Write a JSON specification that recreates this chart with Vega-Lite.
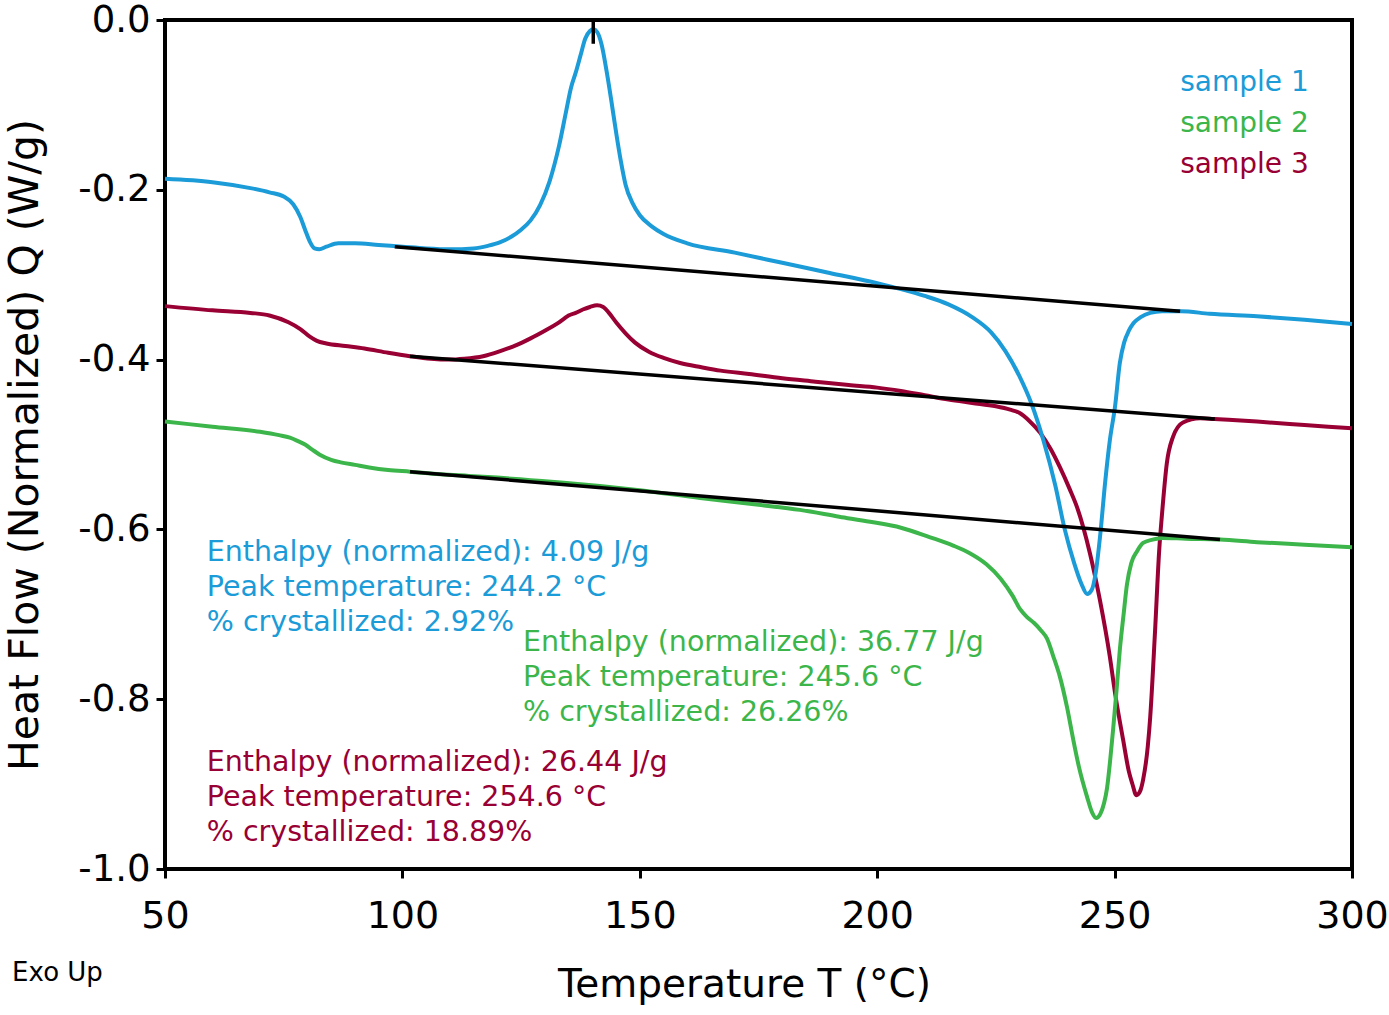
{
  "$schema": "https://vega.github.io/schema/vega-lite/v6.json",
  "width": 1187,
  "height": 849,
  "autosize": {"type": "none"},
  "padding": {"left": 165, "top": 20, "right": 37, "bottom": 146},
  "background": "white",
  "config": {
    "view": {"stroke": "black", "strokeWidth": 4},
    "font": "DejaVu Sans",
    "axis": {"grid": false, "domain": false, "tickColor": "black", "tickWidth": 3, "tickSize": 9, "labelColor": "black", "titleColor": "black", "titleFontWeight": "normal", "labelFont": "DejaVu Sans", "titleFont": "DejaVu Sans", "labelFlush": false}
  },
  "datasets": {
    "curves": [
      {"series": "sample 3", "T": 50, "Q": -0.337}, {"series": "sample 3", "T": 60, "Q": -0.342}, {"series": "sample 3", "T": 68, "Q": -0.345}, {"series": "sample 3", "T": 72, "Q": -0.348}, {"series": "sample 3", "T": 76, "Q": -0.356}, {"series": "sample 3", "T": 78.5, "Q": -0.364}, {"series": "sample 3", "T": 80.5, "Q": -0.373}, {"series": "sample 3", "T": 82, "Q": -0.378}, {"series": "sample 3", "T": 84, "Q": -0.381}, {"series": "sample 3", "T": 88, "Q": -0.384}, {"series": "sample 3", "T": 92, "Q": -0.387}, {"series": "sample 3", "T": 97, "Q": -0.392}, {"series": "sample 3", "T": 101.6, "Q": -0.396}, {"series": "sample 3", "T": 106, "Q": -0.399}, {"series": "sample 3", "T": 110, "Q": -0.4}, {"series": "sample 3", "T": 113, "Q": -0.399}, {"series": "sample 3", "T": 117, "Q": -0.396}, {"series": "sample 3", "T": 120.6, "Q": -0.39}, {"series": "sample 3", "T": 124, "Q": -0.383}, {"series": "sample 3", "T": 127, "Q": -0.375}, {"series": "sample 3", "T": 130, "Q": -0.366}, {"series": "sample 3", "T": 132.5, "Q": -0.358}, {"series": "sample 3", "T": 134, "Q": -0.352}, {"series": "sample 3", "T": 135, "Q": -0.348}, {"series": "sample 3", "T": 136.5, "Q": -0.345}, {"series": "sample 3", "T": 138, "Q": -0.341}, {"series": "sample 3", "T": 139.5, "Q": -0.338}, {"series": "sample 3", "T": 141, "Q": -0.336}, {"series": "sample 3", "T": 142.3, "Q": -0.338}, {"series": "sample 3", "T": 143.5, "Q": -0.345}, {"series": "sample 3", "T": 145, "Q": -0.356}, {"series": "sample 3", "T": 147, "Q": -0.369}, {"series": "sample 3", "T": 149, "Q": -0.38}, {"series": "sample 3", "T": 152, "Q": -0.391}, {"series": "sample 3", "T": 155, "Q": -0.398}, {"series": "sample 3", "T": 158.5, "Q": -0.404}, {"series": "sample 3", "T": 163, "Q": -0.409}, {"series": "sample 3", "T": 167, "Q": -0.413}, {"series": "sample 3", "T": 173, "Q": -0.417}, {"series": "sample 3", "T": 180, "Q": -0.422}, {"series": "sample 3", "T": 187, "Q": -0.426}, {"series": "sample 3", "T": 194, "Q": -0.43}, {"series": "sample 3", "T": 200, "Q": -0.433}, {"series": "sample 3", "T": 205, "Q": -0.437}, {"series": "sample 3", "T": 210, "Q": -0.442}, {"series": "sample 3", "T": 215, "Q": -0.447}, {"series": "sample 3", "T": 220, "Q": -0.451}, {"series": "sample 3", "T": 225, "Q": -0.455}, {"series": "sample 3", "T": 228, "Q": -0.459}, {"series": "sample 3", "T": 230, "Q": -0.463}, {"series": "sample 3", "T": 232, "Q": -0.472}, {"series": "sample 3", "T": 234.3, "Q": -0.486}, {"series": "sample 3", "T": 236.5, "Q": -0.505}, {"series": "sample 3", "T": 238.5, "Q": -0.527}, {"series": "sample 3", "T": 240.5, "Q": -0.552}, {"series": "sample 3", "T": 242.1, "Q": -0.574}, {"series": "sample 3", "T": 244.8, "Q": -0.628}, {"series": "sample 3", "T": 246.9, "Q": -0.683}, {"series": "sample 3", "T": 249, "Q": -0.75}, {"series": "sample 3", "T": 250.1, "Q": -0.793}, {"series": "sample 3", "T": 251.8, "Q": -0.848}, {"series": "sample 3", "T": 253, "Q": -0.885}, {"series": "sample 3", "T": 253.7, "Q": -0.899}, {"series": "sample 3", "T": 254.6, "Q": -0.913}, {"series": "sample 3", "T": 255.4, "Q": -0.908}, {"series": "sample 3", "T": 256, "Q": -0.895}, {"series": "sample 3", "T": 257, "Q": -0.855}, {"series": "sample 3", "T": 257.5, "Q": -0.821}, {"series": "sample 3", "T": 258.5, "Q": -0.722}, {"series": "sample 3", "T": 259.4, "Q": -0.624}, {"series": "sample 3", "T": 260, "Q": -0.581}, {"series": "sample 3", "T": 261, "Q": -0.522}, {"series": "sample 3", "T": 262.3, "Q": -0.491}, {"series": "sample 3", "T": 264.4, "Q": -0.474}, {"series": "sample 3", "T": 268, "Q": -0.469}, {"series": "sample 3", "T": 271, "Q": -0.47}, {"series": "sample 3", "T": 280, "Q": -0.473}, {"series": "sample 3", "T": 290, "Q": -0.477}, {"series": "sample 3", "T": 300, "Q": -0.481},
      {"series": "sample 1", "T": 50, "Q": -0.187}, {"series": "sample 1", "T": 60, "Q": -0.191}, {"series": "sample 1", "T": 68, "Q": -0.198}, {"series": "sample 1", "T": 72, "Q": -0.203}, {"series": "sample 1", "T": 75, "Q": -0.208}, {"series": "sample 1", "T": 77, "Q": -0.217}, {"series": "sample 1", "T": 78.5, "Q": -0.232}, {"series": "sample 1", "T": 79.5, "Q": -0.247}, {"series": "sample 1", "T": 80.5, "Q": -0.261}, {"series": "sample 1", "T": 81.5, "Q": -0.269}, {"series": "sample 1", "T": 82.5, "Q": -0.27}, {"series": "sample 1", "T": 84, "Q": -0.267}, {"series": "sample 1", "T": 86.5, "Q": -0.263}, {"series": "sample 1", "T": 90, "Q": -0.263}, {"series": "sample 1", "T": 95, "Q": -0.265}, {"series": "sample 1", "T": 100, "Q": -0.267}, {"series": "sample 1", "T": 105, "Q": -0.269}, {"series": "sample 1", "T": 110, "Q": -0.27}, {"series": "sample 1", "T": 115, "Q": -0.269}, {"series": "sample 1", "T": 118, "Q": -0.266}, {"series": "sample 1", "T": 120.5, "Q": -0.262}, {"series": "sample 1", "T": 123, "Q": -0.255}, {"series": "sample 1", "T": 125, "Q": -0.247}, {"series": "sample 1", "T": 127, "Q": -0.236}, {"series": "sample 1", "T": 129, "Q": -0.218}, {"series": "sample 1", "T": 131, "Q": -0.19}, {"series": "sample 1", "T": 133, "Q": -0.148}, {"series": "sample 1", "T": 134.5, "Q": -0.107}, {"series": "sample 1", "T": 135.5, "Q": -0.08}, {"series": "sample 1", "T": 136.5, "Q": -0.062}, {"series": "sample 1", "T": 137.5, "Q": -0.042}, {"series": "sample 1", "T": 138.5, "Q": -0.022}, {"series": "sample 1", "T": 139.5, "Q": -0.013}, {"series": "sample 1", "T": 140.2, "Q": -0.011}, {"series": "sample 1", "T": 141, "Q": -0.014}, {"series": "sample 1", "T": 142, "Q": -0.03}, {"series": "sample 1", "T": 143, "Q": -0.06}, {"series": "sample 1", "T": 144, "Q": -0.095}, {"series": "sample 1", "T": 145, "Q": -0.132}, {"series": "sample 1", "T": 146, "Q": -0.166}, {"series": "sample 1", "T": 147, "Q": -0.194}, {"series": "sample 1", "T": 148.5, "Q": -0.216}, {"series": "sample 1", "T": 150, "Q": -0.23}, {"series": "sample 1", "T": 152.5, "Q": -0.243}, {"series": "sample 1", "T": 155, "Q": -0.252}, {"series": "sample 1", "T": 160, "Q": -0.263}, {"series": "sample 1", "T": 170, "Q": -0.274}, {"series": "sample 1", "T": 180, "Q": -0.286}, {"series": "sample 1", "T": 190, "Q": -0.298}, {"series": "sample 1", "T": 200, "Q": -0.31}, {"series": "sample 1", "T": 205, "Q": -0.317}, {"series": "sample 1", "T": 210, "Q": -0.325}, {"series": "sample 1", "T": 215, "Q": -0.335}, {"series": "sample 1", "T": 220, "Q": -0.35}, {"series": "sample 1", "T": 224, "Q": -0.368}, {"series": "sample 1", "T": 227, "Q": -0.39}, {"series": "sample 1", "T": 230, "Q": -0.42}, {"series": "sample 1", "T": 232.5, "Q": -0.452}, {"series": "sample 1", "T": 235, "Q": -0.495}, {"series": "sample 1", "T": 237.5, "Q": -0.548}, {"series": "sample 1", "T": 239.5, "Q": -0.6}, {"series": "sample 1", "T": 241.5, "Q": -0.64}, {"series": "sample 1", "T": 243, "Q": -0.664}, {"series": "sample 1", "T": 244.2, "Q": -0.676}, {"series": "sample 1", "T": 245.2, "Q": -0.671}, {"series": "sample 1", "T": 246, "Q": -0.652}, {"series": "sample 1", "T": 247, "Q": -0.605}, {"series": "sample 1", "T": 248, "Q": -0.545}, {"series": "sample 1", "T": 249, "Q": -0.495}, {"series": "sample 1", "T": 250.1, "Q": -0.455}, {"series": "sample 1", "T": 251.1, "Q": -0.404}, {"series": "sample 1", "T": 252, "Q": -0.38}, {"series": "sample 1", "T": 253, "Q": -0.366}, {"series": "sample 1", "T": 254, "Q": -0.357}, {"series": "sample 1", "T": 255.5, "Q": -0.35}, {"series": "sample 1", "T": 257.5, "Q": -0.345}, {"series": "sample 1", "T": 260, "Q": -0.343}, {"series": "sample 1", "T": 264, "Q": -0.343}, {"series": "sample 1", "T": 270, "Q": -0.346}, {"series": "sample 1", "T": 280, "Q": -0.349}, {"series": "sample 1", "T": 290, "Q": -0.353}, {"series": "sample 1", "T": 300, "Q": -0.358},
      {"series": "sample 2", "T": 50, "Q": -0.473}, {"series": "sample 2", "T": 60, "Q": -0.479}, {"series": "sample 2", "T": 70, "Q": -0.485}, {"series": "sample 2", "T": 74, "Q": -0.489}, {"series": "sample 2", "T": 76.3, "Q": -0.492}, {"series": "sample 2", "T": 78, "Q": -0.496}, {"series": "sample 2", "T": 79.5, "Q": -0.5}, {"series": "sample 2", "T": 81, "Q": -0.506}, {"series": "sample 2", "T": 82.6, "Q": -0.512}, {"series": "sample 2", "T": 85, "Q": -0.518}, {"series": "sample 2", "T": 87, "Q": -0.521}, {"series": "sample 2", "T": 90, "Q": -0.524}, {"series": "sample 2", "T": 93, "Q": -0.527}, {"series": "sample 2", "T": 97, "Q": -0.53}, {"series": "sample 2", "T": 101.6, "Q": -0.532}, {"series": "sample 2", "T": 108, "Q": -0.535}, {"series": "sample 2", "T": 114, "Q": -0.537}, {"series": "sample 2", "T": 120, "Q": -0.539}, {"series": "sample 2", "T": 127, "Q": -0.542}, {"series": "sample 2", "T": 134, "Q": -0.545}, {"series": "sample 2", "T": 141.6, "Q": -0.549}, {"series": "sample 2", "T": 150, "Q": -0.554}, {"series": "sample 2", "T": 162.7, "Q": -0.563}, {"series": "sample 2", "T": 175, "Q": -0.571}, {"series": "sample 2", "T": 183.7, "Q": -0.577}, {"series": "sample 2", "T": 192, "Q": -0.585}, {"series": "sample 2", "T": 198.5, "Q": -0.591}, {"series": "sample 2", "T": 205, "Q": -0.598}, {"series": "sample 2", "T": 211, "Q": -0.609}, {"series": "sample 2", "T": 216, "Q": -0.619}, {"series": "sample 2", "T": 219.5, "Q": -0.628}, {"series": "sample 2", "T": 223, "Q": -0.641}, {"series": "sample 2", "T": 226, "Q": -0.658}, {"series": "sample 2", "T": 228.5, "Q": -0.678}, {"series": "sample 2", "T": 230.1, "Q": -0.694}, {"series": "sample 2", "T": 231.5, "Q": -0.703}, {"series": "sample 2", "T": 233, "Q": -0.71}, {"series": "sample 2", "T": 234.5, "Q": -0.719}, {"series": "sample 2", "T": 235.8, "Q": -0.729}, {"series": "sample 2", "T": 237, "Q": -0.748}, {"series": "sample 2", "T": 238.5, "Q": -0.774}, {"series": "sample 2", "T": 240, "Q": -0.81}, {"series": "sample 2", "T": 241.2, "Q": -0.845}, {"series": "sample 2", "T": 242.5, "Q": -0.88}, {"series": "sample 2", "T": 244.2, "Q": -0.915}, {"series": "sample 2", "T": 245.3, "Q": -0.934}, {"series": "sample 2", "T": 246.1, "Q": -0.94}, {"series": "sample 2", "T": 247, "Q": -0.935}, {"series": "sample 2", "T": 247.8, "Q": -0.922}, {"series": "sample 2", "T": 248.4, "Q": -0.905}, {"series": "sample 2", "T": 249.1, "Q": -0.87}, {"series": "sample 2", "T": 249.7, "Q": -0.835}, {"series": "sample 2", "T": 250.4, "Q": -0.79}, {"series": "sample 2", "T": 251.1, "Q": -0.742}, {"series": "sample 2", "T": 251.9, "Q": -0.7}, {"series": "sample 2", "T": 252.6, "Q": -0.665}, {"series": "sample 2", "T": 253.5, "Q": -0.64}, {"series": "sample 2", "T": 254.7, "Q": -0.626}, {"series": "sample 2", "T": 256, "Q": -0.616}, {"series": "sample 2", "T": 258, "Q": -0.612}, {"series": "sample 2", "T": 260, "Q": -0.61}, {"series": "sample 2", "T": 265, "Q": -0.611}, {"series": "sample 2", "T": 272.2, "Q": -0.612}, {"series": "sample 2", "T": 280, "Q": -0.615}, {"series": "sample 2", "T": 290, "Q": -0.618}, {"series": "sample 2", "T": 300, "Q": -0.621}
    ],
    "baselines": [
      {"series": "sample 1", "T": 98.4, "Q": -0.267}, {"series": "sample 1", "T": 263.8, "Q": -0.343},
      {"series": "sample 3", "T": 101.6, "Q": -0.396}, {"series": "sample 3", "T": 271.1, "Q": -0.47},
      {"series": "sample 2", "T": 101.6, "Q": -0.532}, {"series": "sample 2", "T": 272.2, "Q": -0.612}
    ],
    "peak": [{"T": 140.2, "Q": 0, "Q2": -0.028}],
    "notes": [
      {"series": "sample 1", "T": 58.8, "Q": -0.627, "text": "Enthalpy (normalized): 4.09 J/g"},
      {"series": "sample 1", "T": 58.8, "Q": -0.668, "text": "Peak temperature: 244.2 °C"},
      {"series": "sample 1", "T": 58.8, "Q": -0.709, "text": "% crystallized: 2.92%"},
      {"series": "sample 2", "T": 125.4, "Q": -0.733, "text": "Enthalpy (normalized): 36.77 J/g"},
      {"series": "sample 2", "T": 125.4, "Q": -0.774, "text": "Peak temperature: 245.6 °C"},
      {"series": "sample 2", "T": 125.4, "Q": -0.815, "text": "% crystallized: 26.26%"},
      {"series": "sample 3", "T": 58.8, "Q": -0.874, "text": "Enthalpy (normalized): 26.44 J/g"},
      {"series": "sample 3", "T": 58.8, "Q": -0.915, "text": "Peak temperature: 254.6 °C"},
      {"series": "sample 3", "T": 58.8, "Q": -0.956, "text": "% crystallized: 18.89%"}
    ],
    "legend": [
      {"series": "sample 1", "T": 290.9, "Q": -0.074},
      {"series": "sample 2", "T": 290.9, "Q": -0.122},
      {"series": "sample 3", "T": 290.9, "Q": -0.171}
    ],
    "exo": [{"T": 17.8, "Q": -1.122, "text": "Exo Up"}]
  },
  "layer": [
    {
      "data": {"name": "curves"},
      "transform": [{"filter": "datum.series === 'sample 3'"}],
      "mark": {"type": "line", "strokeWidth": 4, "interpolate": "monotone"},
      "encoding": {
        "x": {"field": "T", "type": "quantitative", "scale": {"domain": [50, 300], "nice": false, "zero": false},
          "axis": {"values": [50, 100, 150, 200, 250, 300], "labelFontSize": 38, "labelPadding": 19, "title": "Temperature T (°C)", "titleFontSize": 39, "titlePadding": 30, "titleX": 579}},
        "y": {"field": "Q", "type": "quantitative", "scale": {"domain": [-1, 0], "nice": false, "zero": false},
          "axis": {"values": [-1, -0.8, -0.6, -0.4, -0.2, 0], "labelFontSize": 37, "labelPadding": 6, "labelExpr": "replace(format(datum.value, '.1f'), '\u2212', '-')", "title": "Heat Flow (Normalized) Q (W/g)", "titleFontSize": 41, "titlePadding": 31}},
        "color": {"field": "series", "type": "nominal", "scale": {"domain": ["sample 1", "sample 2", "sample 3"], "range": ["#1b9bd7", "#3cb64a", "#990033"]}, "legend": null},
        "order": {"field": "T", "type": "quantitative"}
      }
    },
    {
      "data": {"name": "curves"},
      "transform": [{"filter": "datum.series === 'sample 1'"}],
      "mark": {"type": "line", "strokeWidth": 4, "interpolate": "monotone"},
      "encoding": {
        "x": {"field": "T", "type": "quantitative"},
        "y": {"field": "Q", "type": "quantitative"},
        "color": {"field": "series", "type": "nominal", "legend": null},
        "order": {"field": "T", "type": "quantitative"}
      }
    },
    {
      "data": {"name": "curves"},
      "transform": [{"filter": "datum.series === 'sample 2'"}],
      "mark": {"type": "line", "strokeWidth": 4, "interpolate": "monotone"},
      "encoding": {
        "x": {"field": "T", "type": "quantitative"},
        "y": {"field": "Q", "type": "quantitative"},
        "color": {"field": "series", "type": "nominal", "legend": null},
        "order": {"field": "T", "type": "quantitative"}
      }
    },
    {
      "data": {"name": "baselines"},
      "mark": {"type": "line", "strokeWidth": 3.5, "color": "black"},
      "encoding": {
        "x": {"field": "T", "type": "quantitative"},
        "y": {"field": "Q", "type": "quantitative"},
        "detail": {"field": "series", "type": "nominal"}
      }
    },
    {
      "data": {"name": "peak"},
      "mark": {"type": "rule", "strokeWidth": 3.5, "color": "black"},
      "encoding": {
        "x": {"field": "T", "type": "quantitative"},
        "y": {"field": "Q", "type": "quantitative"},
        "y2": {"field": "Q2"}
      }
    },
    {
      "data": {"name": "notes"},
      "mark": {"type": "text", "align": "left", "baseline": "middle", "fontSize": 28.5},
      "encoding": {
        "x": {"field": "T", "type": "quantitative"},
        "y": {"field": "Q", "type": "quantitative"},
        "text": {"field": "text"},
        "color": {"field": "series", "type": "nominal", "legend": null}
      }
    },
    {
      "data": {"name": "legend"},
      "mark": {"type": "text", "align": "right", "baseline": "middle", "fontSize": 28},
      "encoding": {
        "x": {"field": "T", "type": "quantitative"},
        "y": {"field": "Q", "type": "quantitative"},
        "text": {"field": "series"},
        "color": {"field": "series", "type": "nominal", "legend": null}
      }
    },
    {
      "data": {"name": "exo"},
      "mark": {"type": "text", "align": "left", "baseline": "middle", "fontSize": 26, "color": "black"},
      "encoding": {
        "x": {"field": "T", "type": "quantitative"},
        "y": {"field": "Q", "type": "quantitative"},
        "text": {"field": "text"}
      }
    }
  ]
}
